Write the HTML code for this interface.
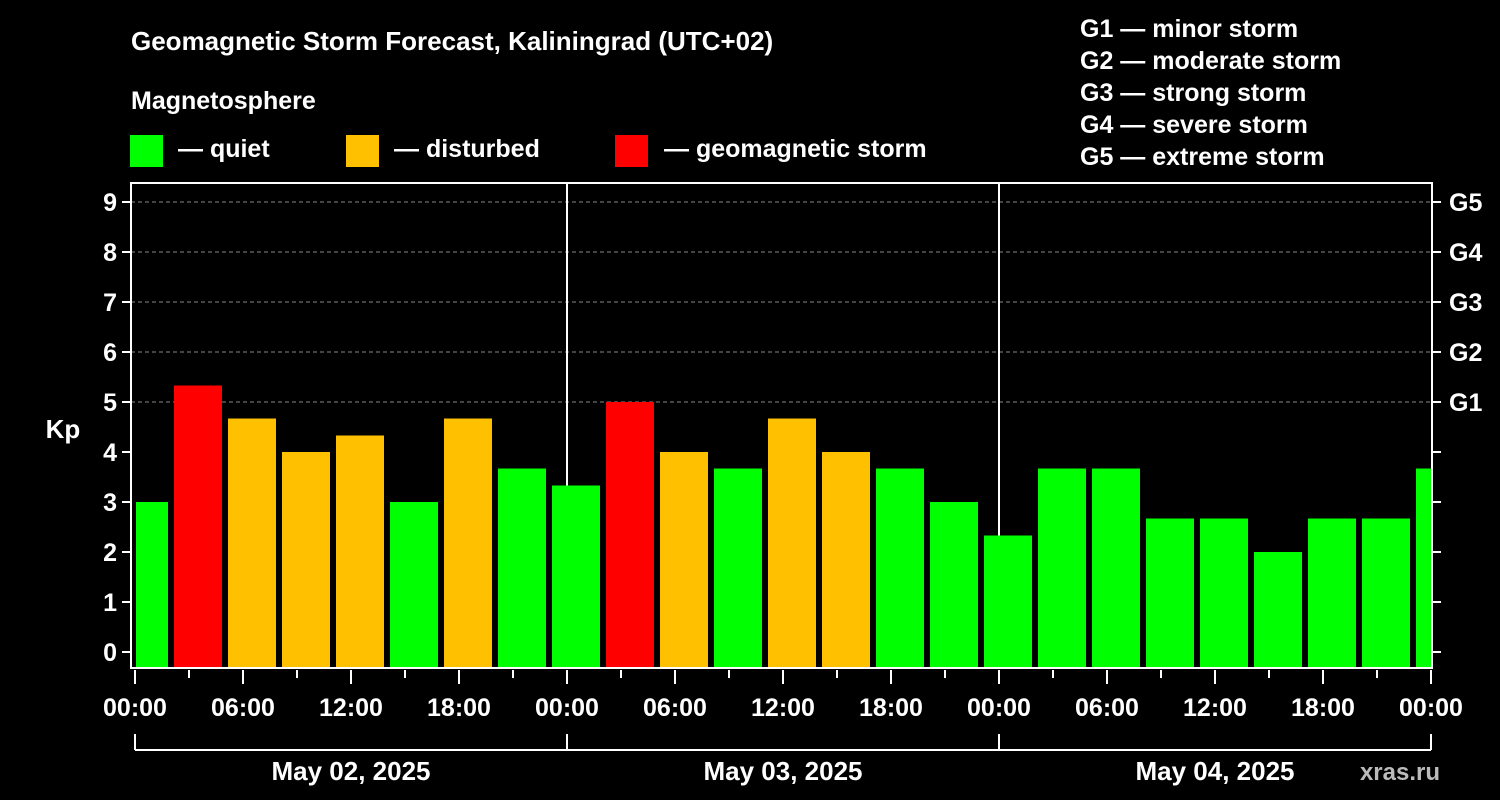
<!DOCTYPE html>
<html><head><meta charset="utf-8"><style>
html,body{margin:0;padding:0;background:#000;}
svg{display:block;font-family:"Liberation Sans",Arial,sans-serif;font-weight:bold;}
</style></head><body>
<svg id="chart" width="1500" height="800" viewBox="0 0 1500 800">
<rect x="0" y="0" width="1500" height="800" fill="#000"/>
<text x="131" y="50" font-size="26" fill="#fff">Geomagnetic Storm Forecast, Kaliningrad (UTC+02)</text>
<text x="131" y="109" font-size="25" fill="#fff">Magnetosphere</text>
<g><rect x="130" y="135" width="33" height="32" fill="#00ff00"/><text x="178" y="157" font-size="25" fill="#fff">— quiet</text></g>
<g><rect x="346" y="135" width="33" height="32" fill="#ffc000"/><text x="394" y="157" font-size="25" fill="#fff">— disturbed</text></g>
<g><rect x="615" y="135" width="33" height="32" fill="#ff0000"/><text x="664" y="157" font-size="25" fill="#fff">— geomagnetic storm</text></g>
<g font-size="25" fill="#fff">
<text x="1080" y="37">G1 — minor storm</text>
<text x="1080" y="69">G2 — moderate storm</text>
<text x="1080" y="101">G3 — strong storm</text>
<text x="1080" y="133">G4 — severe storm</text>
<text x="1080" y="165">G5 — extreme storm</text>
</g>
<text x="63" y="438" font-size="26" fill="#fff" text-anchor="middle">Kp</text>
<g id="grid"></g>
<g id="bars"></g>
<g id="axes"></g>
<text x="1440" y="780" font-size="24" fill="#bbb" text-anchor="end">xras.ru</text>
</svg>
<script>
const kpValues = [3, 5.33, 4.67, 4, 4.33, 3, 4.67, 3.67, 3.33, 5, 4, 3.67, 4.67, 4, 3.67, 3, 2.33, 3.67, 3.67, 2.67, 2.67, 2, 2.67, 2.67, 3.67];
const yTicks = [0,1,2,3,4,5,6,7,8,9];
const gLabels = ["G1","G2","G3","G4","G5"];
const gLevels = [5,6,7,8,9];
const xTickLabels = ["00:00","06:00","12:00","18:00","00:00","06:00","12:00","18:00","00:00","06:00","12:00","18:00","00:00"];
const dayLabels = ["May 02, 2025","May 03, 2025","May 04, 2025"];

const NS="http://www.w3.org/2000/svg";
const L=131,R=1432,T=183,B=668,X0=135,PX_H=18;
const y=v=>652-50*v;
const x=h=>X0+PX_H*h;
function mk(tag,attrs,parent,txt){const e=document.createElementNS(NS,tag);for(const k in attrs)e.setAttribute(k,attrs[k]);if(txt!==undefined)e.textContent=txt;parent.appendChild(e);return e;}
const grid=document.getElementById('grid'),bars=document.getElementById('bars'),axes=document.getElementById('axes');

gLevels.forEach(v=>{
  const l=mk('line',{x1:L,x2:R,y1:y(v),y2:y(v),stroke:'#888','stroke-width':1,'stroke-dasharray':'4,3'},grid);
  
  
});
[1,2].forEach(d=>{
  const l=mk('line',{x1:x(24*d),x2:x(24*d),y1:T,y2:B,stroke:'#fff','stroke-width':2},grid);
  
  
});
mk('clipPath',{id:'pc'},bars).appendChild(Object.assign(document.createElementNS(NS,'rect'),{}));
const cr=bars.querySelector('clipPath rect');cr.setAttribute('x',L+5);cr.setAttribute('y',T);cr.setAttribute('width',R-L-5);cr.setAttribute('height',B-T);
const bg=mk('g',{'clip-path':'url(#pc)'},bars);
kpValues.forEach((v,i)=>{
  const c=x(0.5+3*i);
  const col=v>=5?'#ff0000':(v>=4?'#ffc000':'#00ff00');
  const r=mk('rect',{x:c-24,y:y(v),width:48,height:B-y(v),fill:col},bg);
  
  
});
// frame
const f=mk('rect',{x:L,y:T,width:R-L,height:B-T,fill:'none',stroke:'#fff','stroke-width':2},axes);


yTicks.forEach(v=>{
  mk('line',{x1:L-9,x2:L,y1:y(v),y2:y(v),stroke:'#fff','stroke-width':2},axes);
  mk('line',{x1:R,x2:R+9,y1:y(v),y2:y(v),stroke:'#fff','stroke-width':2},axes);
  const t=mk('text',{x:L-14,y:y(v)+9,'font-size':25,fill:'#fff','text-anchor':'end'},axes,String(v));
  
  
});
gLabels.forEach((g,i)=>{
  const t=mk('text',{x:1449,y:y(gLevels[i])+9,'font-size':25,fill:'#fff'},axes,g);
  
  
});
for(let h=0;h<=72;h+=3){
  const major=h%6===0;
  mk('line',{x1:x(h),x2:x(h),y1:B+2,y2:B+(major?16:10),stroke:'#fff','stroke-width':2},axes);
}
xTickLabels.forEach((s,i)=>{
  const t=mk('text',{x:x(6*i),y:716,'font-size':25,fill:'#fff','text-anchor':'middle'},axes,s);
  
  
});
mk('line',{x1:x(0),x2:x(72),y1:750,y2:750,stroke:'#fff','stroke-width':2},axes);
for(let d=0;d<=3;d++) mk('line',{x1:x(24*d),x2:x(24*d),y1:734,y2:750,stroke:'#fff','stroke-width':2},axes);
dayLabels.forEach((s,i)=>{
  const t=mk('text',{x:x(24*i+12),y:780,'font-size':26,fill:'#fff','text-anchor':'middle'},axes,s);
  
  
});
</script>
</body></html>
